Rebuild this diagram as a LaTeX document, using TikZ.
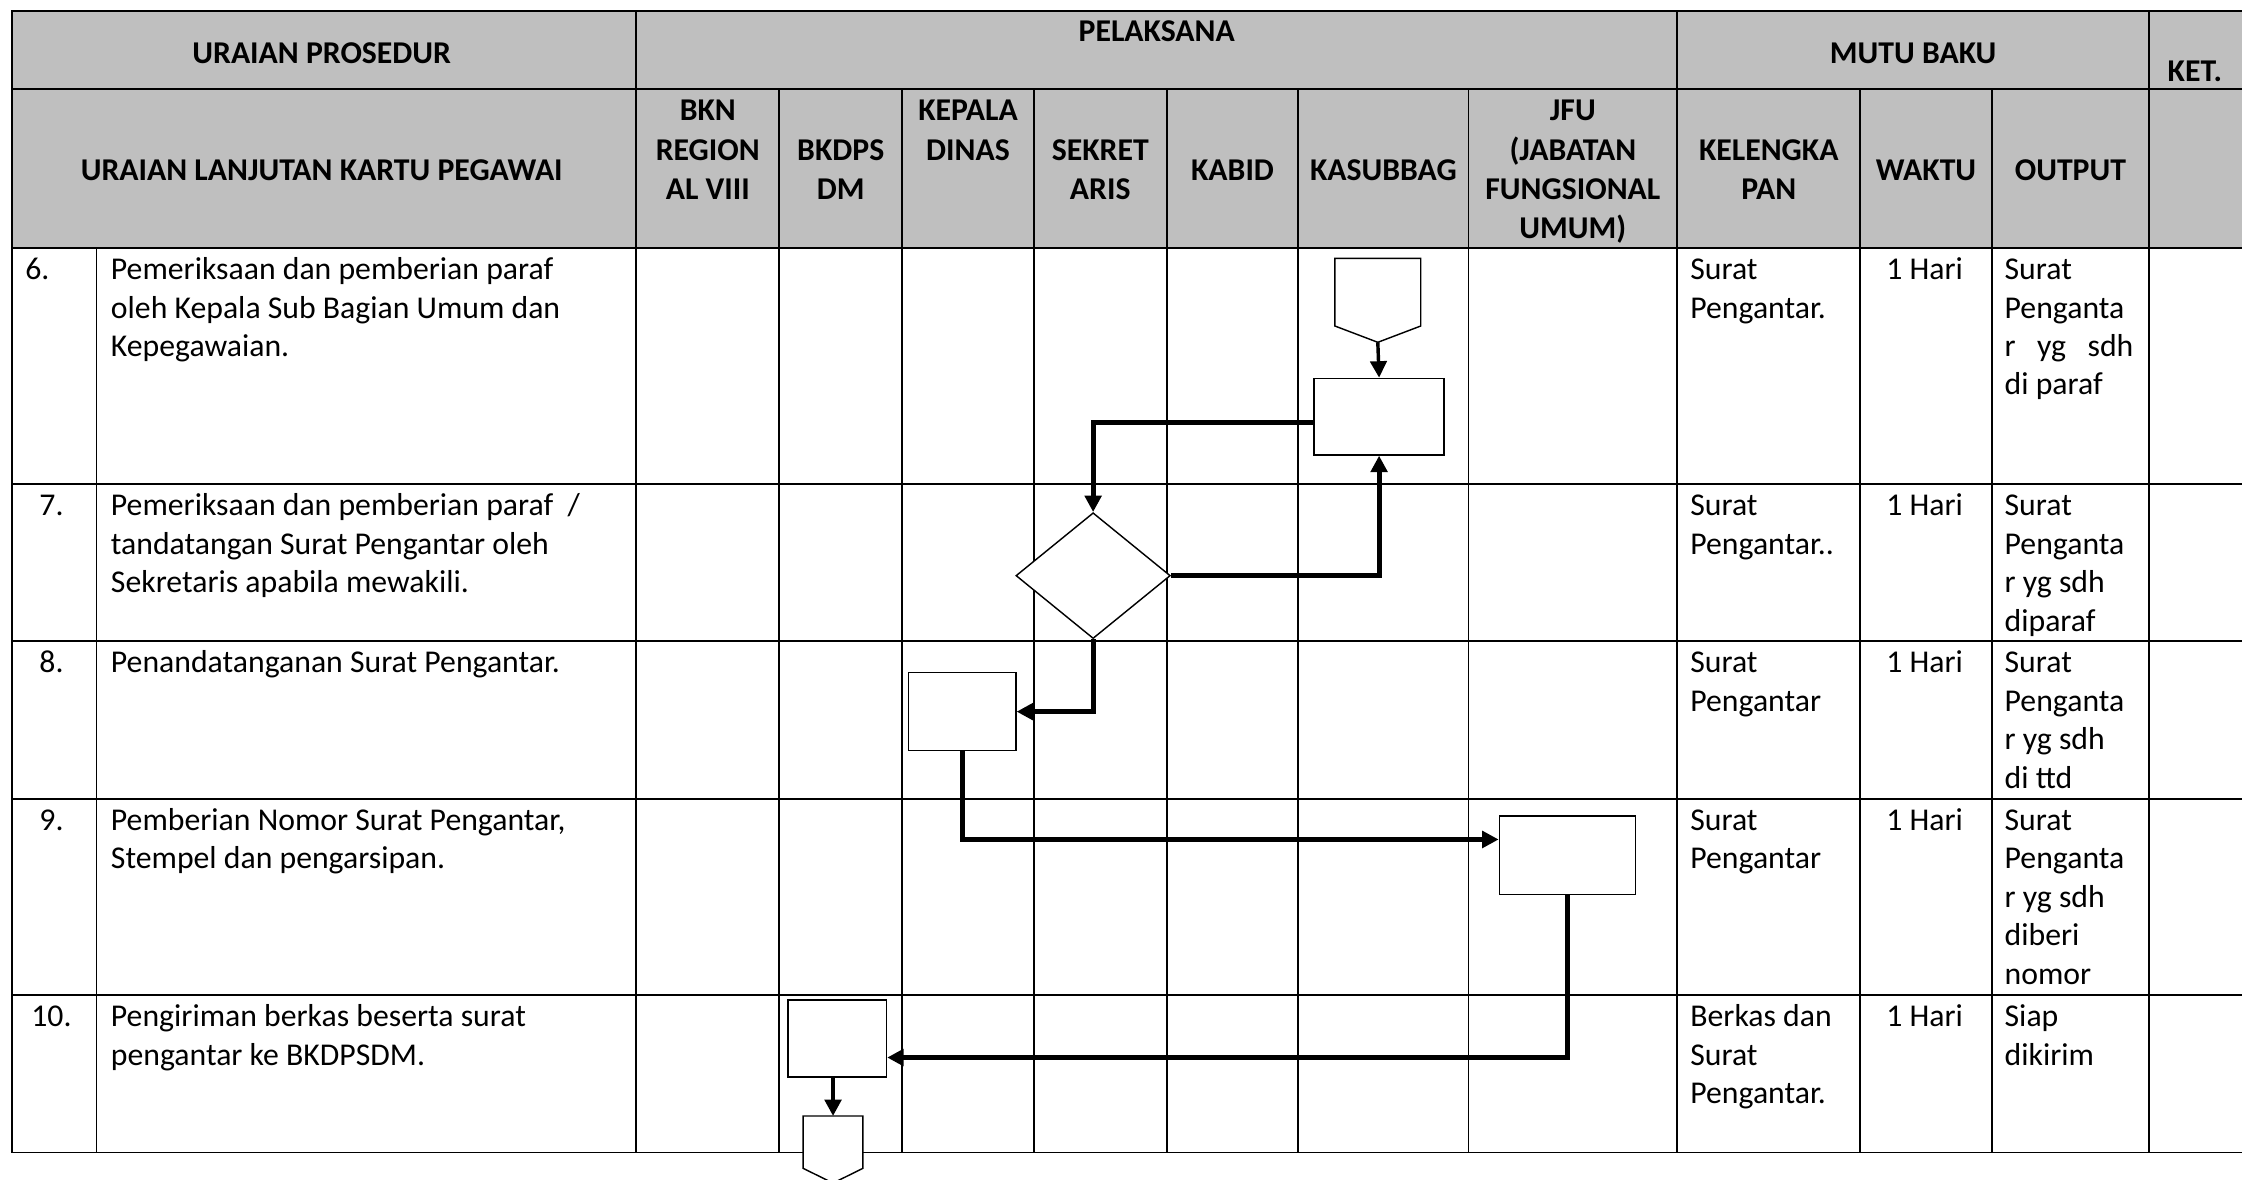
\documentclass[tikz,border=0pt]{standalone}
\usepackage{fontspec}
\setmainfont{Carlito}
\usepackage{tikz}
\usetikzlibrary{positioning, calc, shapes.geometric, arrows.meta}
\definecolor{headgray}{RGB}{191,191,191}
\newcommand{\bodyfont}{\fontsize{22.2}{26.9}\selectfont}
\newcommand{\headfont}{\fontsize{22.2}{27.4}\selectfont\bfseries}

\begin{document}
\begin{tikzpicture}[
        x=1pt, y=-1pt,
        rule/.style={line width=1.3pt, line cap=rect},
        head/.style={font=\headfont, inner sep=0pt, align=center, anchor=north},
        cell/.style={font=\bodyfont, inner sep=0pt, align=left, anchor=north west},
        nocol/.style={cell, anchor=north},
        task/.style={draw, line width=1pt, fill=white, inner sep=0pt},
        decision/.style={diamond, draw, line width=1pt, fill=white, inner sep=0pt,
            minimum width=108pt, minimum height=88pt},
        offpage/.style={inner sep=0pt, outer sep=0pt},
        flow/.style={line width=3.4pt, -{Triangle[length=11.5pt, width=11.5pt]}},
    ]

    \useasboundingbox (0,0) rectangle (1568,824.6);

    % header band and table rules
    \fill[headgray] (8.2,7.7) rectangle (1580,173.3);
    \foreach \y in {7.7,62.5,173.3,338.5,448.3,558.5,696,806}
        \draw[rule] (8.2,\y) -- (1580,\y);
    \foreach \x in {8.2,445,1173,1503}
        \draw[rule] (\x,7.7) -- (\x,806);
    \foreach \x in {545,631,723,816,908,1027,1301,1393}
        \draw[rule] (\x,62.5) -- (\x,806);
    \draw[rule] (67.5,173.3) -- (67.5,806);

    % column headings
    \node[head] (hUraian) at (225,25.1) {\strut URAIAN PROSEDUR};
    \node[head] (hPelaksana) at (809,9.8) {\strut PELAKSANA};
    \node[head] (hMutu) at (1338,25.1) {\strut MUTU BAKU};
    \node[head] (hKet) at (1535,37.5) {\strut KET.};
    \node[head] (hLanjutan) at (225,106.8) {\strut URAIAN LANJUTAN KARTU PEGAWAI};
    \node[head] (hBkn) at (495,65.2) {\strut BKN\\REGION\\AL VIII};
    \node[head] (hBkd) at (588,92.6) {\strut BKDPS\\DM};
    \node[head] (hKadis) at (677,65.2) {\strut KEPALA\\DINAS};
    \node[head] (hSekr) at (769.5,92.6) {\strut SEKRET\\ARIS};
    \node[head] (hKabid) at (862,106.8) {\strut KABID};
    \node[head] (hKasub) at (967.5,106.8) {\strut KASUBBAG};
    \node[head] (hJfu) at (1100,65.2) {\strut JFU\\(JABATAN\\FUNGSIONAL\\UMUM)};
    \node[head] (hKel) at (1237,92.6) {\strut KELENGKA\\PAN};
    \node[head] (hWaktu) at (1347,106.8) {\strut WAKTU};
    \node[head] (hOutput) at (1448,106.8) {\strut OUTPUT};

    % step 6
    \node[cell] (n6) at (17.5,176.5) {\strut 6.};
    \node[cell] (u6) at (77.4,176.5) {\strut Pemeriksaan dan pemberian paraf\\oleh Kepala Sub Bagian Umum dan\\Kepegawaian.};
    \node[cell] (k6) at (1182,176.5) {\strut Surat\\Pengantar.};
    \node[nocol] (w6) at (1346,176.5) {\strut 1 Hari};
    \node[cell] (o6) at (1401.8,176.5) {\strut Surat\\Penganta\\\makebox[90pt][s]{r yg sdh}\\di paraf};

    % step 7
    \node[nocol] (n7) at (36,341.7) {\strut 7.};
    \node[cell] (u7) at (77.4,341.7) {\strut Pemeriksaan dan pemberian paraf~ /\\tandatangan Surat Pengantar oleh\\Sekretaris apabila mewakili.};
    \node[cell] (k7) at (1182,341.7) {\strut Surat\\Pengantar..};
    \node[nocol] (w7) at (1346,341.7) {\strut 1 Hari};
    \node[cell] (o7) at (1401.8,341.7) {\strut Surat\\Penganta\\r yg sdh\\diparaf};

    % step 8
    \node[nocol] (n8) at (36,451.5) {\strut 8.};
    \node[cell] (u8) at (77.4,451.5) {\strut Penandatanganan Surat Pengantar.};
    \node[cell] (k8) at (1182,451.5) {\strut Surat\\Pengantar};
    \node[nocol] (w8) at (1346,451.5) {\strut 1 Hari};
    \node[cell] (o8) at (1401.8,451.5) {\strut Surat\\Penganta\\r yg sdh\\di ttd};

    % step 9
    \node[nocol] (n9) at (36,561.7) {\strut 9.};
    \node[cell] (u9) at (77.4,561.7) {\strut Pemberian Nomor Surat Pengantar,\\Stempel dan pengarsipan.};
    \node[cell] (k9) at (1182,561.7) {\strut Surat\\Pengantar};
    \node[nocol] (w9) at (1346,561.7) {\strut 1 Hari};
    \node[cell] (o9) at (1401.8,561.7) {\strut Surat\\Penganta\\r yg sdh\\diberi\\nomor};

    % step 10
    \node[nocol] (n10) at (36,699.2) {\strut 10.};
    \node[cell] (u10) at (77.4,699.2) {\strut Pengiriman berkas beserta surat\\pengantar ke BKDPSDM.};
    \node[cell] (k10) at (1182,699.2) {\strut Berkas dan\\Surat\\Pengantar.};
    \node[nocol] (w10) at (1346,699.2) {\strut 1 Hari};
    \node[cell] (o10) at (1401.8,699.2) {\strut Siap\\dikirim};

    % flow symbols
    \node[offpage, minimum width=60pt, minimum height=58.7pt] (mulai) at (963.6,210.05) {};
    \filldraw[fill=white, line width=1pt] (mulai.north west) -- (mulai.north east)
        -- ([yshift=11.4pt]mulai.south east) -- (mulai.south)
        -- ([yshift=11.4pt]mulai.south west) -- cycle;
    \node[task, minimum width=91pt, minimum height=53.6pt] (paraf) at (964.5,291.4) {};
    \node[decision] (cek) at (764.5,402.6) {};
    \node[task, minimum width=75pt, minimum height=54.6pt] (ttd) at (673,497.7) {};
    \node[task, minimum width=95.4pt, minimum height=54.8pt] (nomor) at (1096.3,598.1) {};
    \node[task, minimum width=69pt, minimum height=54pt] (kirim) at (585.5,726.3) {};
    \node[offpage, minimum width=41.8pt, minimum height=46.9pt] (keluar) at (582.6,803.95) {};
    \filldraw[fill=white, line width=1pt] (keluar.north west) -- (keluar.north east)
        -- ([yshift=10.3pt]keluar.south east) -- (keluar.south)
        -- ([yshift=10.3pt]keluar.south west) -- cycle;

    % connectors
    \draw[flow, line width=2.4pt] (mulai.south) -- (paraf.north);
    \draw[flow] ([yshift=-4.2pt]paraf.west) -| (cek.north);
    \draw[flow] (cek.east) -| (paraf.south);
    \draw[flow] (cek.south) |- (ttd.east);
    \draw[flow] (ttd.south) |- ([yshift=11pt]nomor.west);
    \draw[flow] (nomor.south) |- ([yshift=-13.3pt]kirim.east);
    \draw[flow] (kirim.south -| keluar.north) -- (keluar.north);

\end{tikzpicture}
\end{document}
